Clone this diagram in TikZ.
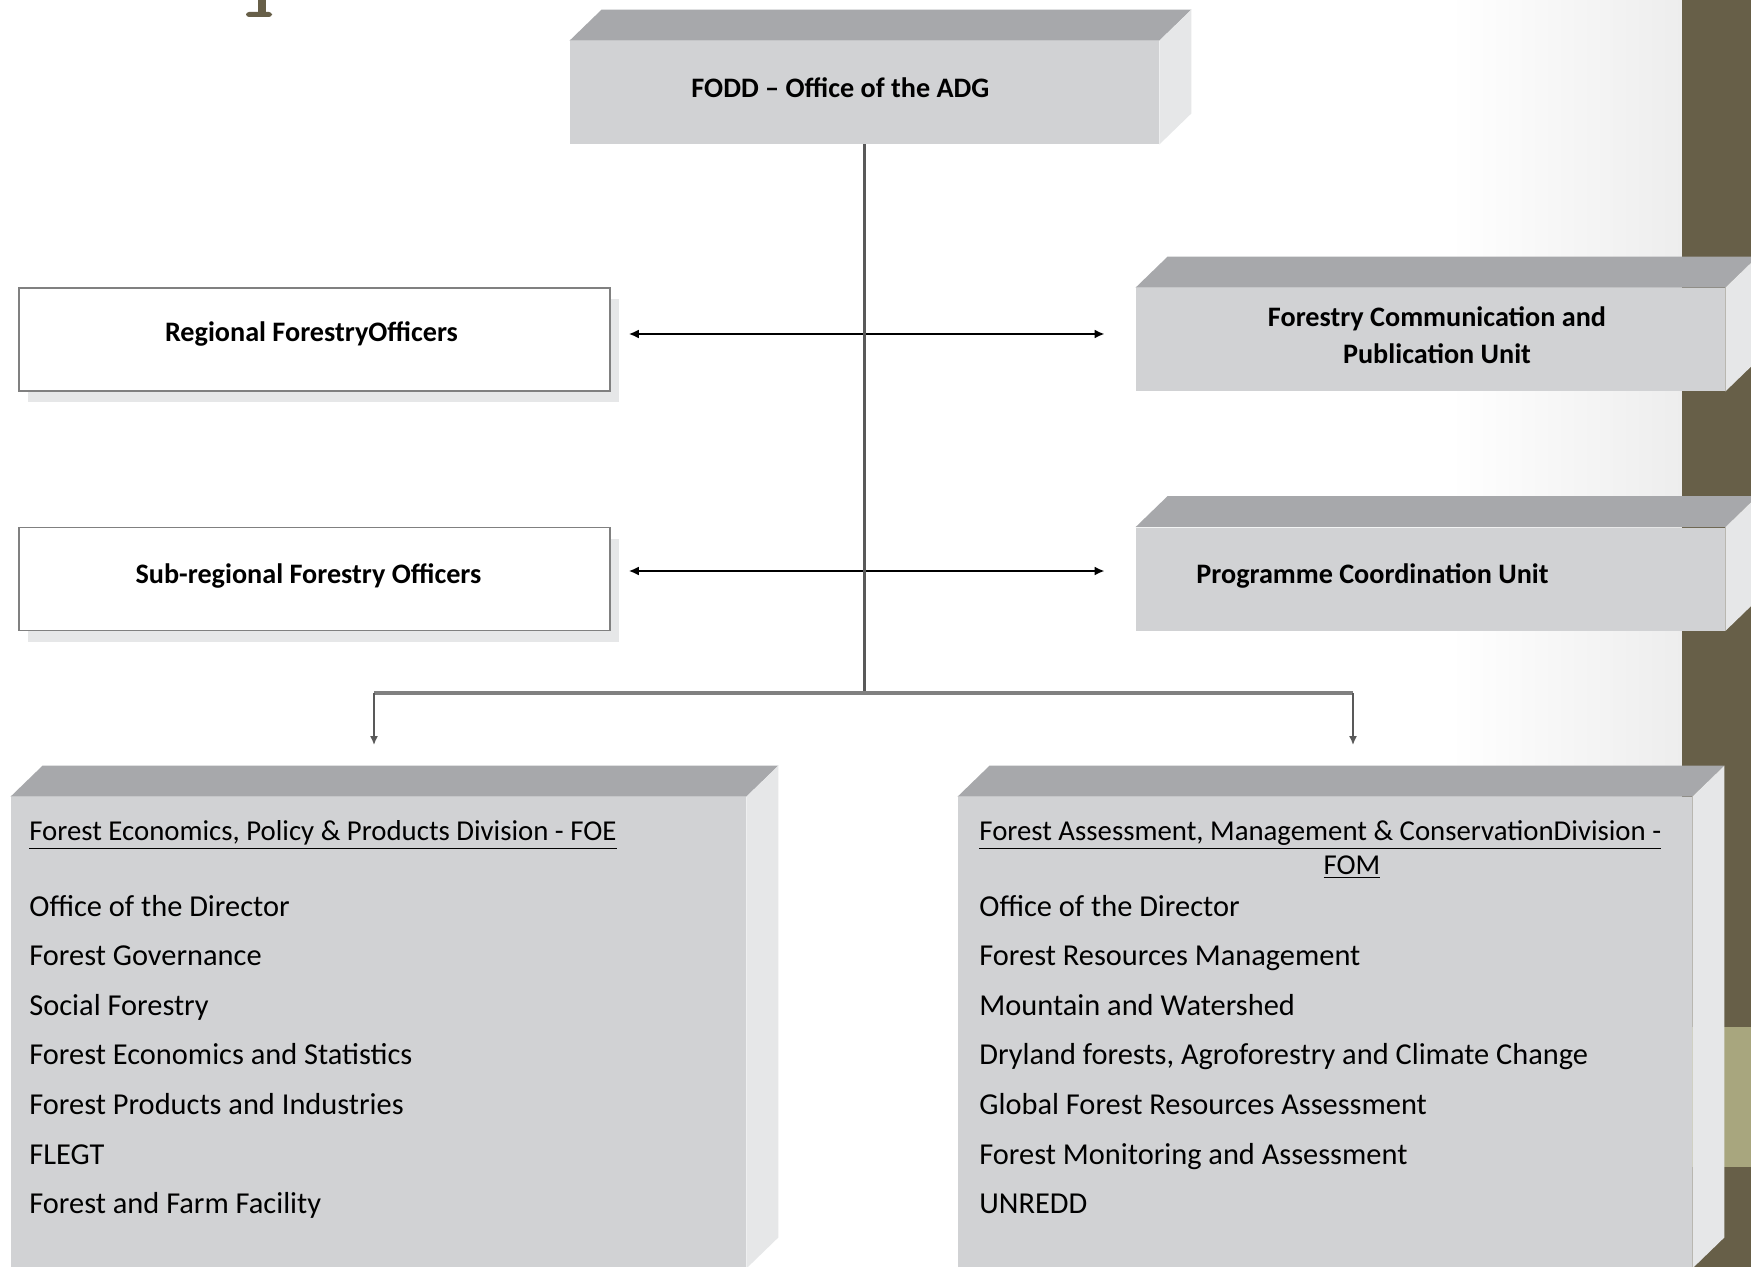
\documentclass[tikz,border=0pt]{standalone}
\usepackage{fontspec}
\setmainfont{Carlito}
\usetikzlibrary{arrows.meta,shadows}

\definecolor{frontgray}{HTML}{D1D2D4}
\definecolor{topgray}{HTML}{A7A8AB}
\definecolor{sidegray}{HTML}{E6E7E8}
\definecolor{stripolive}{HTML}{675F48}
\definecolor{stripkhaki}{HTML}{A8A67E}
\definecolor{linegray}{HTML}{595959}

% top and right faces of a raised box
\newcommand{\cubefaces}[1]{%
    \fill[topgray] (#1.north west) -- ++(32,-31) -- ([shift={(32,-31)}]#1.north east) -- (#1.north east) -- cycle;
    \fill[sidegray] (#1.north east) -- ++(32,-31) -- ([shift={(32,-31)}]#1.south east) -- (#1.south east) -- cycle;}

\tikzset{
    unitbox/.style={fill=frontgray, minimum width=294.5pt, minimum height=51.5pt},
    officerbox/.style={draw=gray, line width=0.75pt, fill=white, minimum width=295.5pt, minimum height=51.5pt,
        general shadow={fill=sidegray, shadow xshift=4.5pt, shadow yshift=-5.5pt}},
    boxtext/.style={font=\fontsize{14.1}{18.5}\selectfont\bfseries},
    divbox/.style={fill=frontgray, minimum width=367.5pt, minimum height=235.5pt},
    head/.style={anchor=west, inner xsep=0pt, text height=0.75em, text depth=0.25em, font=\fontsize{14.4}{17}\selectfont},
    item/.style={anchor=west, inner xsep=0pt, text height=0.75em, text depth=0.25em, font=\fontsize{15.2}{18}\selectfont},
    link/.style={line width=1pt, {Latex[length=5pt,width=4.5pt]}-{Latex[length=5pt,width=4.5pt]}},
    drop/.style={linegray, line width=0.75pt, -{Latex[length=4.5pt,width=4pt]}}
}

\begin{document}
\begin{tikzpicture}[x=0.5pt,y=-0.5pt]
    \useasboundingbox (0,0) rectangle (1751,1267);
    \fill[white] (0,0) rectangle (1751,1267);
    \shade[left color=white, right color=black!7] (1450,0) rectangle (1682,1267);
    \fill[stripolive] (1682,0) rectangle (1751,1267);
    \fill[stripkhaki] (1682,1027) rectangle (1751,1167);
    \fill[stripolive] (258,0) rectangle (266,14);
    \fill[stripolive, rounded corners=1.5pt] (246,12) rectangle (272,17);

    % head office
    \node[unitbox] (fodd) at (864.5,92.5) {};
    \cubefaces{fodd}
    \node[boxtext] (foddtext) at ([shift={(-24,-4.5)}]fodd.center) {FODD -- Office of the ADG};

    % officers
    \node[officerbox] (reg) at (314.5,339.5) {};
    \node[boxtext] (regtext) at ([shift={(-3,-5.5)}]reg.center) {Regional ForestryOfficers};
    \node[officerbox] (sub) at (314.5,579) {};
    \node[boxtext] (subtext) at ([shift={(-6,-3.5)}]sub.center) {Sub-regional Forestry Officers};

    % units
    \node[unitbox] (comm) at (1430.5,339.5) {};
    \cubefaces{comm}
    \node[boxtext, align=center] (commtext) at ([shift={(6.5,-4.5)}]comm.center) {Forestry Communication and\\Publication Unit};
    \node[unitbox] (pcu) at (1430.5,579) {};
    \cubefaces{pcu}
    \node[boxtext, anchor=west, inner xsep=0pt] (pcutext) at ([shift={(-234.5,-3)}]pcu.center) {Programme Coordination Unit};

    % divisions
    \node[divbox] (foe) at (378.5,1032.5) {};
    \cubefaces{foe}
    \node[divbox, minimum width=367pt] (fom) at (1325,1032.5) {};
    \cubefaces{fom}

    \node[head] (foehead) at (29,835.5) {\underline{Forest Economics, Policy \& Products Division - FOE}};
    \foreach \txt [count=\i from 0] in {Office of the Director, Forest Governance, Social Forestry,
        Forest Economics and Statistics, Forest Products and Industries, FLEGT, Forest and Farm Facility}
        \node[item] (foe\i) at (29,911+49.6*\i) {\txt};

    \node[head] (fomhead) at (979,835.5) {\underline{Forest Assessment, Management \& ConservationDivision -}};
    \node[head, anchor=center] (fomtag) at (1352,869.5) {\underline{FOM}};
    \foreach \txt [count=\i from 0] in {Office of the Director, Forest Resources Management, Mountain and Watershed,
        {Dryland forests, Agroforestry and Climate Change}, Global Forest Resources Assessment,
        Forest Monitoring and Assessment, UNREDD}
        \node[item] (fom\i) at (979,911+49.6*\i) {\txt};

    % connectors
    \draw[link] ([shift={(18,-5.5)}]reg.east) -- ([shift={(-31,-5.5)}]comm.west);
    \draw[link] ([shift={(18,-8)}]sub.east) -- ([shift={(-31,-8)}]pcu.west);

    \coordinate (bus) at (864.5,693);
    \coordinate (busl) at (374,693);
    \coordinate (busr) at (1353,693);
    \coordinate (foein) at (374,745);
    \coordinate (fomin) at (1353,745);
    \draw[linegray, line width=1.5pt] (fodd.south) -- (bus);
    \draw[gray, line width=2pt] (busl) -- (busr);
    \draw[drop] (busl) -- (foein);
    \draw[drop] (busr) -- (fomin);
\end{tikzpicture}
\end{document}
